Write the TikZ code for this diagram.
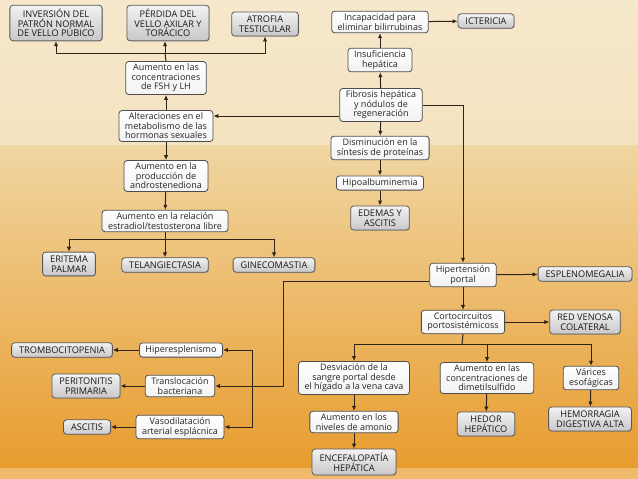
\documentclass[tikz,border=0pt]{standalone}
\usepackage{fontspec}
\setmainfont{Open Sans}
\usetikzlibrary{arrows.meta,shadows}
\definecolor{bgtop}{HTML}{F6E8CC}
\definecolor{bgmid}{HTML}{F0D6A2}
\definecolor{bgbot}{HTML}{E89C2E}
\definecolor{lnc}{HTML}{2E2418}
\tikzset{
  cbox/.style ={draw=black!70, rounded corners=3pt, align=center, inner xsep=6pt, inner ysep=2.6pt,
                font=\fontsize{9}{9.4}\selectfont, text=black!85, line width=0.8pt,
                top color=white, bottom color=blue!4!black!5},
  ebox/.style ={cbox, font=\fontsize{9.2}{9.6}\selectfont, inner xsep=7.5pt, inner ysep=3.8pt,
                top color=black!5, bottom color=violet!10!black!22, text=black!90,
                draw=black!65, drop shadow={shadow xshift=0.8pt, shadow yshift=-0.8pt, opacity=0.35}},
  ar/.style   ={-{Latex[length=5pt,width=4.4pt]}, draw=lnc, line width=1pt},
  ln/.style   ={draw=lnc, line width=1pt},
}
\begin{document}
\begin{tikzpicture}[x=1pt, y=-1pt]
\useasboundingbox (0,0) rectangle (638,479);
\shade[top color=bgtop, bottom color=bgtop!70!bgmid] (0,0) rectangle (638,145);
\shade[top color=bgmid, bottom color=bgbot] (0,145) rectangle (638,468);
\fill[bgbot!70!white] (0,468) rectangle (638,479);

\node[ebox] (inv)  at (56,23)  {INVERSIÓN DEL\\PATRÓN NORMAL\\DE VELLO PÚBICO};
\node[ebox] (perd) at (168,23) {PÉRDIDA DEL\\VELLO AXILAR Y\\TORÁCICO};
\node[ebox] (atr)  at (265,24) {ATROFIA\\TESTICULAR};
\node[cbox] (fsh)  at (166,78) {Aumento en las\\concentraciones\\de FSH y LH};
\node[cbox] (alt)  at (166,126) {Alteraciones en el\\metabolismo de las\\hormonas sexuales};
\node[cbox] (andr) at (166,176) {Aumento en la\\producción de\\androstenediona};
\node[cbox] (rel)  at (165,221) {Aumento en la relación\\estradiol/testosterona libre};
\node[ebox] (eri)  at (69,264) {ERITEMA\\PALMAR};
\node[ebox] (tel)  at (165,265) {TELANGIECTASIA};
\node[ebox] (gin)  at (274,265) {GINECOMASTIA};

\node[cbox] (inc)  at (380,22) {Incapacidad para\\eliminar bilirrubinas};
\node[ebox] (ict)  at (486,21) {ICTERICIA};
\node[cbox] (insf) at (380,60) {Insuficiencia\\hepática};
\node[cbox] (fib)  at (381,105) {Fibrosis hepática\\y nódulos de\\regeneración};
\node[cbox] (dism) at (380,148) {Disminución en la\\síntesis de proteínas};
\node[cbox] (hipo) at (380,183) {Hipoalbuminemia};
\node[ebox] (ede)  at (380,218) {EDEMAS Y\\ASCITIS};

\node[cbox] (hip)  at (463,275) {Hipertensión\\portal};
\node[ebox] (esp)  at (585,274) {ESPLENOMEGALIA};
\node[cbox] (cort) at (463,322) {Cortocircuitos\\portosistémicoss};
\node[ebox] (red)  at (585,322) {RED VENOSA\\COLATERAL};
\node[cbox] (desv) at (354,378) {Desviación de la\\sangre portal desde\\el hígado a la vena cava};
\node[cbox] (dim)  at (487,378) {Aumento en las\\concentraciones de\\dimetilsulfido};
\node[cbox] (var)  at (591,378) {Várices\\esofágicas};
\node[cbox] (amo)  at (354,422) {Aumento en los\\niveles de amonio};
\node[ebox] (hed)  at (486,424) {HEDOR\\HEPÁTICO};
\node[ebox] (hem)  at (590,419) {HEMORRAGIA\\DIGESTIVA ALTA};
\node[ebox] (enc)  at (354,462) {ENCEFALOPATÍA\\HEPÁTICA};

\node[cbox] (hes)  at (181,350) {Hiperesplenismo};
\node[ebox] (tro)  at (62,350) {TROMBOCITOPENIA};
\node[cbox] (tra)  at (180,386) {Translocación\\bacteriana};
\node[ebox] (per)  at (86,386) {PERITONITIS\\PRIMARIA};
\node[cbox] (vas)  at (180,427) {Vasodilatación\\arterial esplácnica};
\node[ebox] (asc)  at (87,427) {ASCITIS};

\coordinate (jt) at (165,53);
\coordinate (jr) at (165,239);
\coordinate (jc) at (462,344);
\coordinate (jh) at (283,281);
\coordinate (jb) at (252,387);

\draw[ln] (fsh.north) -- (jt);
\draw[ar] (jt) -| (inv.south); \draw[ar] (jt) -- (jt |- perd.south); \draw[ar] (jt) -| (atr.south);
\draw[ar] (alt) -- (fsh);
\draw[ar] ([yshift=-11pt]fib.west) -- ([yshift=-11pt]fib.west -| alt.east);
\draw[ar] (alt) -- (andr); \draw[ar] (andr) -- (rel);
\draw[ln] (rel.south) -- (jr);
\draw[ar] (jr) -| (eri.north); \draw[ar] (jr) -- (jr |- tel.north); \draw[ar] (jr) -| (gin.north);

\draw[ar] (fib) -- (insf); \draw[ar] (insf) -- (inc); \draw[ar] (inc) -- (ict);
\draw[ar] (fib) -- (dism); \draw[ar] (dism) -- (hipo); \draw[ar] (hipo) -- (ede);
\draw[ar] (fib.east) -| (hip.north);
\draw[ar] (hip) -- (esp);
\draw[ar] (hip) -- (cort); \draw[ar] (cort) -- (red);
\draw[ln] (cort.south) -- (jc);
\draw[ar] (jc) -| (desv.north); \draw[ar] (jc) -| (dim.north); \draw[ar] (jc) -| (var.north);
\draw[ar] (desv) -- (amo); \draw[ar] (amo) -- (enc);
\draw[ar] (dim) -- (hed); \draw[ar] (var) -- (hem);

\draw[ar] (jh -| hip.west) -- (jh) |- (tra.east);
\draw[ar] (jb) |- (hes.east);
\draw[ar] (jb) |- (vas.east);
\draw[ar] (hes) -- (tro); \draw[ar] (tra) -- (per); \draw[ar] (vas) -- (asc);
\end{tikzpicture}
\end{document}
